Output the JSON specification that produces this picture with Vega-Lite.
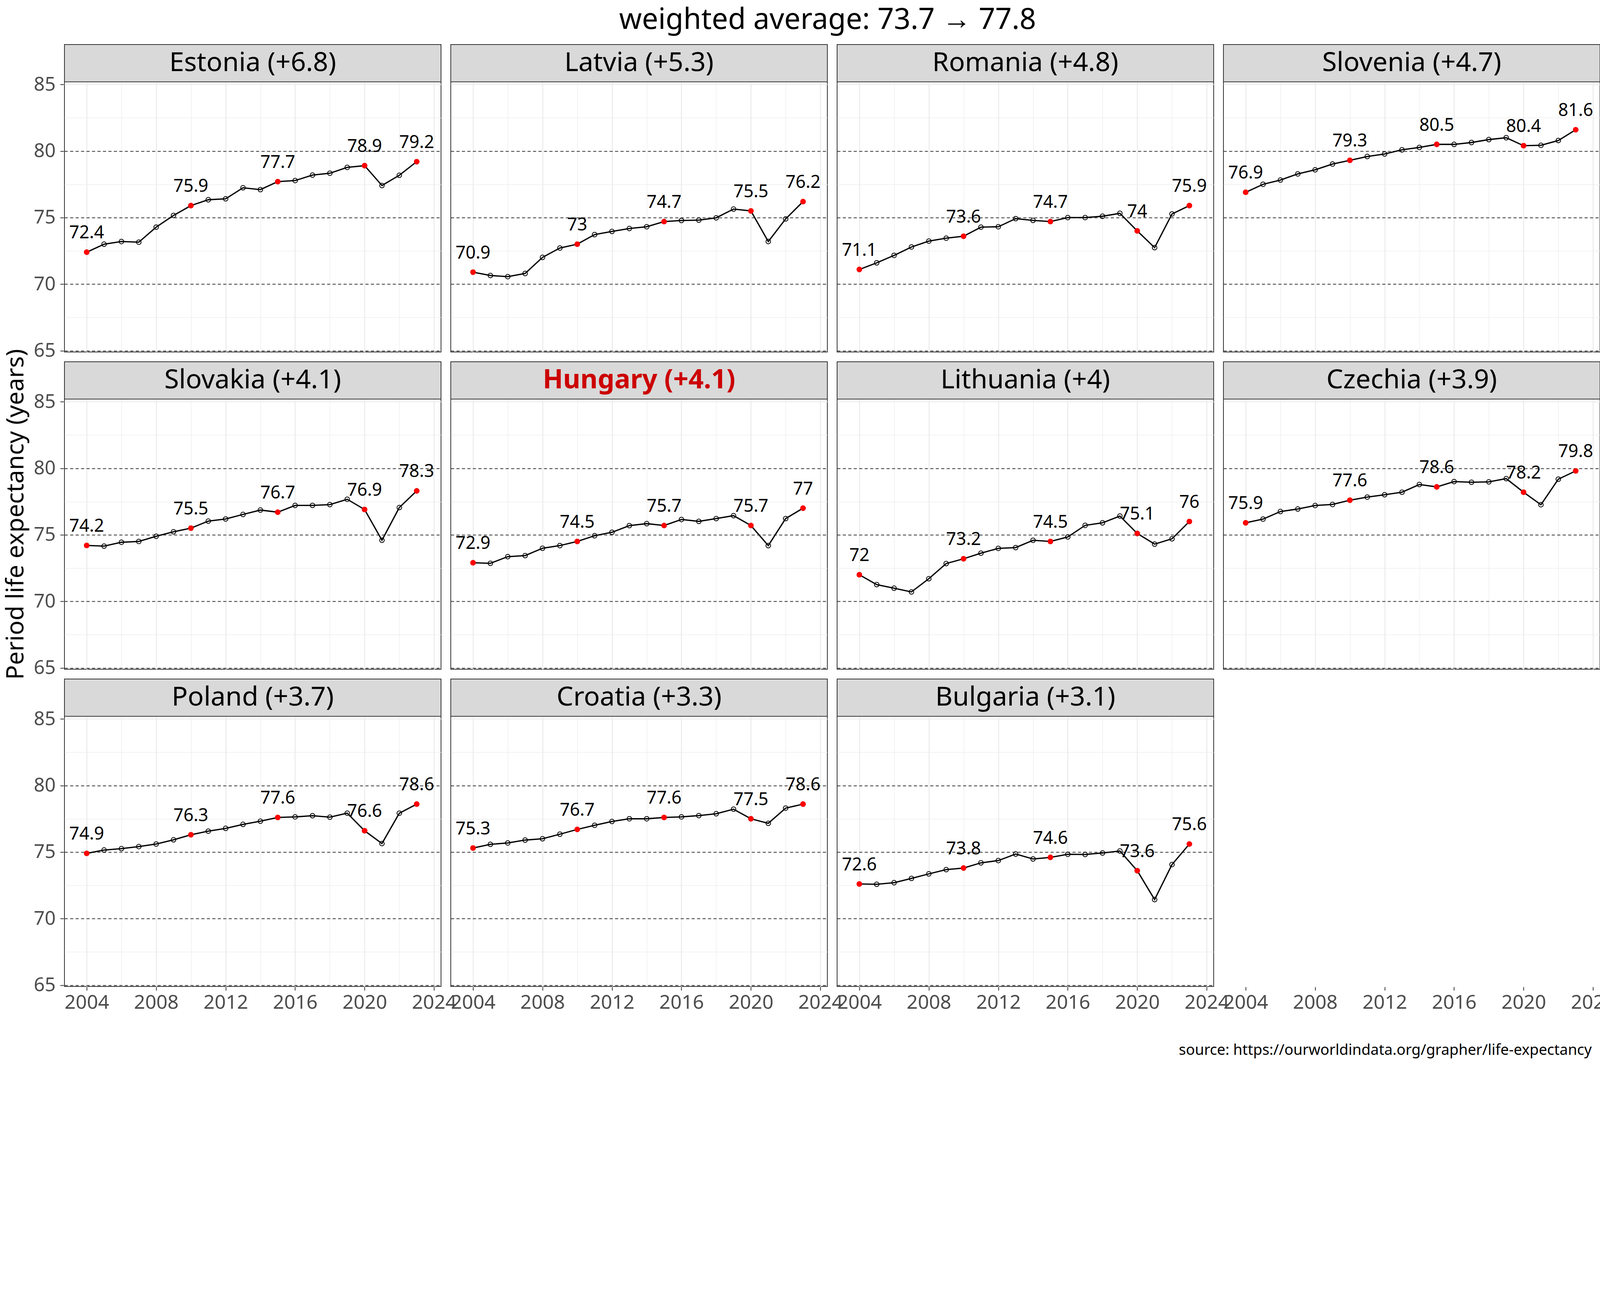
{
  "$schema": "https://vega.github.io/schema/vega-lite/v6.json",
  "padding": {"left": 0, "top": 15, "right": 0, "bottom": 0},
  "datasets": {
    "strips": [
      {"country": "Estonia", "label": "Estonia (+6.8)"},
      {"country": "Latvia", "label": "Latvia (+5.3)"},
      {"country": "Romania", "label": "Romania (+4.8)"},
      {"country": "Slovenia", "label": "Slovenia (+4.7)"},
      {"country": "Slovakia", "label": "Slovakia (+4.1)"},
      {"country": "Hungary", "label": "Hungary (+4.1)"},
      {"country": "Lithuania", "label": "Lithuania (+4)"},
      {"country": "Czechia", "label": "Czechia (+3.9)"},
      {"country": "Poland", "label": "Poland (+3.7)"},
      {"country": "Croatia", "label": "Croatia (+3.3)"},
      {"country": "Bulgaria", "label": "Bulgaria (+3.1)"}
    ],
    "lifeexp": [
      {"country":"Estonia","year":2004,"value":72.4},{"country":"Estonia","year":2005,"value":73.0},{"country":"Estonia","year":2006,"value":73.2},{"country":"Estonia","year":2007,"value":73.15},{"country":"Estonia","year":2008,"value":74.28},{"country":"Estonia","year":2009,"value":75.16},{"country":"Estonia","year":2010,"value":75.9},{"country":"Estonia","year":2011,"value":76.34},{"country":"Estonia","year":2012,"value":76.41},{"country":"Estonia","year":2013,"value":77.24},{"country":"Estonia","year":2014,"value":77.1},{"country":"Estonia","year":2015,"value":77.7},{"country":"Estonia","year":2016,"value":77.78},{"country":"Estonia","year":2017,"value":78.19},{"country":"Estonia","year":2018,"value":78.33},{"country":"Estonia","year":2019,"value":78.77},{"country":"Estonia","year":2020,"value":78.9},{"country":"Estonia","year":2021,"value":77.41},{"country":"Estonia","year":2022,"value":78.18},{"country":"Estonia","year":2023,"value":79.2},
      {"country":"Latvia","year":2004,"value":70.9},{"country":"Latvia","year":2005,"value":70.65},{"country":"Latvia","year":2006,"value":70.56},{"country":"Latvia","year":2007,"value":70.8},{"country":"Latvia","year":2008,"value":72.01},{"country":"Latvia","year":2009,"value":72.71},{"country":"Latvia","year":2010,"value":73.0},{"country":"Latvia","year":2011,"value":73.72},{"country":"Latvia","year":2012,"value":73.96},{"country":"Latvia","year":2013,"value":74.18},{"country":"Latvia","year":2014,"value":74.31},{"country":"Latvia","year":2015,"value":74.7},{"country":"Latvia","year":2016,"value":74.78},{"country":"Latvia","year":2017,"value":74.81},{"country":"Latvia","year":2018,"value":74.98},{"country":"Latvia","year":2019,"value":75.64},{"country":"Latvia","year":2020,"value":75.5},{"country":"Latvia","year":2021,"value":73.2},{"country":"Latvia","year":2022,"value":74.9},{"country":"Latvia","year":2023,"value":76.2},
      {"country":"Romania","year":2004,"value":71.1},{"country":"Romania","year":2005,"value":71.6},{"country":"Romania","year":2006,"value":72.16},{"country":"Romania","year":2007,"value":72.79},{"country":"Romania","year":2008,"value":73.23},{"country":"Romania","year":2009,"value":73.45},{"country":"Romania","year":2010,"value":73.6},{"country":"Romania","year":2011,"value":74.28},{"country":"Romania","year":2012,"value":74.31},{"country":"Romania","year":2013,"value":74.92},{"country":"Romania","year":2014,"value":74.79},{"country":"Romania","year":2015,"value":74.7},{"country":"Romania","year":2016,"value":75.0},{"country":"Romania","year":2017,"value":75.0},{"country":"Romania","year":2018,"value":75.1},{"country":"Romania","year":2019,"value":75.32},{"country":"Romania","year":2020,"value":74.0},{"country":"Romania","year":2021,"value":72.74},{"country":"Romania","year":2022,"value":75.27},{"country":"Romania","year":2023,"value":75.9},
      {"country":"Slovenia","year":2004,"value":76.9},{"country":"Slovenia","year":2005,"value":77.5},{"country":"Slovenia","year":2006,"value":77.82},{"country":"Slovenia","year":2007,"value":78.28},{"country":"Slovenia","year":2008,"value":78.59},{"country":"Slovenia","year":2009,"value":79.02},{"country":"Slovenia","year":2010,"value":79.3},{"country":"Slovenia","year":2011,"value":79.59},{"country":"Slovenia","year":2012,"value":79.78},{"country":"Slovenia","year":2013,"value":80.09},{"country":"Slovenia","year":2014,"value":80.27},{"country":"Slovenia","year":2015,"value":80.5},{"country":"Slovenia","year":2016,"value":80.5},{"country":"Slovenia","year":2017,"value":80.64},{"country":"Slovenia","year":2018,"value":80.86},{"country":"Slovenia","year":2019,"value":81.0},{"country":"Slovenia","year":2020,"value":80.4},{"country":"Slovenia","year":2021,"value":80.43},{"country":"Slovenia","year":2022,"value":80.79},{"country":"Slovenia","year":2023,"value":81.6},
      {"country":"Slovakia","year":2004,"value":74.2},{"country":"Slovakia","year":2005,"value":74.15},{"country":"Slovakia","year":2006,"value":74.44},{"country":"Slovakia","year":2007,"value":74.5},{"country":"Slovakia","year":2008,"value":74.89},{"country":"Slovakia","year":2009,"value":75.23},{"country":"Slovakia","year":2010,"value":75.5},{"country":"Slovakia","year":2011,"value":76.03},{"country":"Slovakia","year":2012,"value":76.19},{"country":"Slovakia","year":2013,"value":76.53},{"country":"Slovakia","year":2014,"value":76.86},{"country":"Slovakia","year":2015,"value":76.7},{"country":"Slovakia","year":2016,"value":77.21},{"country":"Slovakia","year":2017,"value":77.21},{"country":"Slovakia","year":2018,"value":77.27},{"country":"Slovakia","year":2019,"value":77.67},{"country":"Slovakia","year":2020,"value":76.9},{"country":"Slovakia","year":2021,"value":74.59},{"country":"Slovakia","year":2022,"value":77.05},{"country":"Slovakia","year":2023,"value":78.3},
      {"country":"Hungary","year":2004,"value":72.9},{"country":"Hungary","year":2005,"value":72.86},{"country":"Hungary","year":2006,"value":73.36},{"country":"Hungary","year":2007,"value":73.44},{"country":"Hungary","year":2008,"value":73.99},{"country":"Hungary","year":2009,"value":74.19},{"country":"Hungary","year":2010,"value":74.5},{"country":"Hungary","year":2011,"value":74.93},{"country":"Hungary","year":2012,"value":75.19},{"country":"Hungary","year":2013,"value":75.69},{"country":"Hungary","year":2014,"value":75.84},{"country":"Hungary","year":2015,"value":75.7},{"country":"Hungary","year":2016,"value":76.15},{"country":"Hungary","year":2017,"value":76.01},{"country":"Hungary","year":2018,"value":76.22},{"country":"Hungary","year":2019,"value":76.44},{"country":"Hungary","year":2020,"value":75.7},{"country":"Hungary","year":2021,"value":74.19},{"country":"Hungary","year":2022,"value":76.22},{"country":"Hungary","year":2023,"value":77.0},
      {"country":"Lithuania","year":2004,"value":72.0},{"country":"Lithuania","year":2005,"value":71.26},{"country":"Lithuania","year":2006,"value":70.99},{"country":"Lithuania","year":2007,"value":70.71},{"country":"Lithuania","year":2008,"value":71.7},{"country":"Lithuania","year":2009,"value":72.84},{"country":"Lithuania","year":2010,"value":73.2},{"country":"Lithuania","year":2011,"value":73.62},{"country":"Lithuania","year":2012,"value":73.98},{"country":"Lithuania","year":2013,"value":74.04},{"country":"Lithuania","year":2014,"value":74.59},{"country":"Lithuania","year":2015,"value":74.5},{"country":"Lithuania","year":2016,"value":74.84},{"country":"Lithuania","year":2017,"value":75.71},{"country":"Lithuania","year":2018,"value":75.9},{"country":"Lithuania","year":2019,"value":76.41},{"country":"Lithuania","year":2020,"value":75.1},{"country":"Lithuania","year":2021,"value":74.3},{"country":"Lithuania","year":2022,"value":74.7},{"country":"Lithuania","year":2023,"value":76.0},
      {"country":"Czechia","year":2004,"value":75.9},{"country":"Czechia","year":2005,"value":76.18},{"country":"Czechia","year":2006,"value":76.75},{"country":"Czechia","year":2007,"value":76.94},{"country":"Czechia","year":2008,"value":77.2},{"country":"Czechia","year":2009,"value":77.28},{"country":"Czechia","year":2010,"value":77.6},{"country":"Czechia","year":2011,"value":77.83},{"country":"Czechia","year":2012,"value":78.01},{"country":"Czechia","year":2013,"value":78.2},{"country":"Czechia","year":2014,"value":78.78},{"country":"Czechia","year":2015,"value":78.6},{"country":"Czechia","year":2016,"value":79.0},{"country":"Czechia","year":2017,"value":78.95},{"country":"Czechia","year":2018,"value":78.98},{"country":"Czechia","year":2019,"value":79.22},{"country":"Czechia","year":2020,"value":78.2},{"country":"Czechia","year":2021,"value":77.26},{"country":"Czechia","year":2022,"value":79.18},{"country":"Czechia","year":2023,"value":79.8},
      {"country":"Poland","year":2004,"value":74.9},{"country":"Poland","year":2005,"value":75.15},{"country":"Poland","year":2006,"value":75.26},{"country":"Poland","year":2007,"value":75.41},{"country":"Poland","year":2008,"value":75.6},{"country":"Poland","year":2009,"value":75.92},{"country":"Poland","year":2010,"value":76.3},{"country":"Poland","year":2011,"value":76.57},{"country":"Poland","year":2012,"value":76.78},{"country":"Poland","year":2013,"value":77.08},{"country":"Poland","year":2014,"value":77.32},{"country":"Poland","year":2015,"value":77.6},{"country":"Poland","year":2016,"value":77.64},{"country":"Poland","year":2017,"value":77.73},{"country":"Poland","year":2018,"value":77.62},{"country":"Poland","year":2019,"value":77.92},{"country":"Poland","year":2020,"value":76.6},{"country":"Poland","year":2021,"value":75.64},{"country":"Poland","year":2022,"value":77.92},{"country":"Poland","year":2023,"value":78.6},
      {"country":"Croatia","year":2004,"value":75.3},{"country":"Croatia","year":2005,"value":75.58},{"country":"Croatia","year":2006,"value":75.68},{"country":"Croatia","year":2007,"value":75.9},{"country":"Croatia","year":2008,"value":76.0},{"country":"Croatia","year":2009,"value":76.34},{"country":"Croatia","year":2010,"value":76.7},{"country":"Croatia","year":2011,"value":77.01},{"country":"Croatia","year":2012,"value":77.3},{"country":"Croatia","year":2013,"value":77.5},{"country":"Croatia","year":2014,"value":77.5},{"country":"Croatia","year":2015,"value":77.6},{"country":"Croatia","year":2016,"value":77.64},{"country":"Croatia","year":2017,"value":77.74},{"country":"Croatia","year":2018,"value":77.88},{"country":"Croatia","year":2019,"value":78.22},{"country":"Croatia","year":2020,"value":77.5},{"country":"Croatia","year":2021,"value":77.16},{"country":"Croatia","year":2022,"value":78.3},{"country":"Croatia","year":2023,"value":78.6},
      {"country":"Bulgaria","year":2004,"value":72.6},{"country":"Bulgaria","year":2005,"value":72.58},{"country":"Bulgaria","year":2006,"value":72.7},{"country":"Bulgaria","year":2007,"value":73.02},{"country":"Bulgaria","year":2008,"value":73.36},{"country":"Bulgaria","year":2009,"value":73.68},{"country":"Bulgaria","year":2010,"value":73.8},{"country":"Bulgaria","year":2011,"value":74.19},{"country":"Bulgaria","year":2012,"value":74.36},{"country":"Bulgaria","year":2013,"value":74.85},{"country":"Bulgaria","year":2014,"value":74.48},{"country":"Bulgaria","year":2015,"value":74.6},{"country":"Bulgaria","year":2016,"value":74.83},{"country":"Bulgaria","year":2017,"value":74.82},{"country":"Bulgaria","year":2018,"value":74.93},{"country":"Bulgaria","year":2019,"value":75.08},{"country":"Bulgaria","year":2020,"value":73.6},{"country":"Bulgaria","year":2021,"value":71.43},{"country":"Bulgaria","year":2022,"value":74.06},{"country":"Bulgaria","year":2023,"value":75.6}
    ]
  },
  "title": {
    "text": "weighted average: 73.7 → 77.8",
    "fontSize": 74,
    "fontWeight": "normal",
    "font": "Noto Sans",
    "color": "black",
    "anchor": "middle",
    "dx": 51,
    "offset": 21
  },
  "spacing": 78,
  "vconcat": [
    {
      "spacing": 3,
      "hconcat": [
        {
          "data": {"values": [{}]},
          "width": 82,
          "height": 2405,
          "view": {"stroke": null},
          "mark": {"type": "text", "angle": 270, "fontSize": 62, "font": "Noto Sans", "color": "black", "baseline": "middle", "align": "center"},
          "encoding": {"text": {"value": "Period life expectancy (years)"}}
        },
        {
          "data": {"name": "lifeexp"},
          "transform": [
            {"lookup": "country", "from": {"data": {"name": "strips"}, "key": "country", "fields": ["label"]}}
          ],
          "columns": 4,
          "spacing": {"row": 21, "column": 21},
          "facet": {
            "field": "country",
            "type": "nominal",
            "title": null,
            "sort": ["Estonia", "Latvia", "Romania", "Slovenia", "Slovakia", "Hungary", "Lithuania", "Czechia", "Poland", "Croatia", "Bulgaria"],
            "header": {
              "labelExpr": "''",
              "labelPadding": 0,
              "labelFontSize": 1
            }
          },
          "spec": {
            "width": 964,
            "height": 787,
            "layer": [
              {
                "mark": {"type": "line", "color": "black", "strokeWidth": 3.3},
                "encoding": {
                  "x": {
                    "field": "year", "type": "quantitative", "title": null,
                    "scale": {"domain": [2002.72, 2024.4], "nice": false, "zero": false},
                    "axis": {
                      "title": null,
                      "values": [2004, 2006, 2008, 2010, 2012, 2014, 2016, 2018, 2020, 2022, 2024],
                      "labelExpr": "(datum.value - 2004) % 4 === 0 ? format(datum.value, 'd') : ''",
                      "tickOpacity": {"condition": {"test": "(datum.value - 2004) % 4 === 0", "value": 1}, "value": 0},
                      "gridColor": "#ebebeb",
                      "gridWidth": {"condition": {"test": "(datum.value - 2004) % 4 === 0", "value": 2.5}, "value": 1.25},
                      "labelFontSize": 50,
                      "labelPadding": 6,
                      "labelOverlap": false,
                      "labelFlush": false,
                      "labelBound": false
                    }
                  },
                  "y": {
                    "field": "value", "type": "quantitative", "title": null,
                    "scale": {"domain": [64.9, 88.0], "nice": false, "zero": false},
                    "axis": {
                      "title": null,
                      "values": [65, 67.5, 70, 72.5, 75, 77.5, 80, 82.5, 85],
                      "labelExpr": "datum.value % 5 === 0 ? format(datum.value, 'd') : ''",
                      "tickOpacity": {"condition": {"test": "datum.value % 5 === 0", "value": 1}, "value": 0},
                      "gridColor": {"condition": {"test": "datum.value <= 80 && datum.value % 5 === 0", "value": "#333333"}, "value": "#ebebeb"},
                      "gridDash": {"condition": {"test": "datum.value <= 80 && datum.value % 5 === 0", "value": [8, 6]}, "value": []},
                      "gridWidth": {"condition": {"test": "datum.value % 5 === 0", "value": 2}, "value": 1.25},
                      "labelFontSize": 49,
                      "labelPadding": 12,
                      "labelOverlap": false,
                      "labelFlush": false,
                      "labelBound": false
                    }
                  }
                }
              },
              {
                "mark": {"type": "point", "shape": "circle", "filled": false, "stroke": "black", "strokeWidth": 2, "size": 140, "opacity": 1},
                "encoding": {
                  "x": {"field": "year", "type": "quantitative", "title": null},
                  "y": {"field": "value", "type": "quantitative", "title": null}
                }
              },
              {
                "transform": [{"filter": {"field": "year", "oneOf": [2004, 2010, 2015, 2020, 2023]}}],
                "mark": {"type": "circle", "color": "#ff0000", "size": 205, "opacity": 1},
                "encoding": {
                  "x": {"field": "year", "type": "quantitative", "title": null},
                  "y": {"field": "value", "type": "quantitative", "title": null}
                }
              },
              {
                "transform": [{"filter": {"field": "year", "oneOf": [2004, 2010, 2015, 2020, 2023]}}],
                "mark": {"type": "text", "fontSize": 45, "font": "Noto Sans", "color": "black", "baseline": "alphabetic", "align": "center", "dy": -35},
                "encoding": {
                  "x": {"field": "year", "type": "quantitative", "title": null},
                  "y": {"field": "value", "type": "quantitative", "title": null},
                  "text": {"field": "value", "type": "quantitative", "format": ".1~f"}
                }
              },
              {
                "transform": [{"filter": "datum.year === 2004"}],
                "mark": {"type": "rect", "fill": "#d9d9d9", "stroke": "#333333", "strokeWidth": 2},
                "encoding": {
                  "x": {"datum": 2002.72, "type": "quantitative", "title": null},
                  "x2": {"datum": 2024.4},
                  "y": {"datum": 85.2, "type": "quantitative", "title": null},
                  "y2": {"datum": 88.0}
                }
              },
              {
                "transform": [{"filter": "datum.year === 2004 && datum.country !== 'Hungary'"}],
                "mark": {"type": "text", "fontSize": 68, "font": "Noto Sans", "color": "black", "baseline": "middle", "align": "center"},
                "encoding": {
                  "x": {"datum": 2013.56, "type": "quantitative", "title": null},
                  "y": {"datum": 86.6, "type": "quantitative", "title": null},
                  "text": {"field": "label", "type": "nominal"}
                }
              },
              {
                "transform": [{"filter": "datum.year === 2004 && datum.country === 'Hungary'"}],
                "mark": {"type": "text", "fontSize": 68, "font": "Noto Sans", "fontWeight": "bold", "color": "#cc0000", "baseline": "middle", "align": "center"},
                "encoding": {
                  "x": {"datum": 2013.56, "type": "quantitative", "title": null},
                  "y": {"datum": 86.6, "type": "quantitative", "title": null},
                  "text": {"field": "label", "type": "nominal"}
                }
              }
            ]
          }
        }
      ]
    },
    {
      "data": {"values": [{}]},
      "width": 4075,
      "height": 40,
      "view": {"stroke": null},
      "mark": {"type": "text", "fontSize": 38, "font": "Noto Sans", "color": "black", "baseline": "middle", "align": "right"},
      "encoding": {
        "x": {"datum": 1, "type": "quantitative", "scale": {"domain": [0, 1]}, "axis": null},
        "text": {"value": "source: https://ourworldindata.org/grapher/life-expectancy"}
      }
    }
  ],
  "config": {
    "font": "Noto Sans",
    "background": "white",
    "view": {"stroke": "#333333", "strokeWidth": 2},
    "axis": {
      "domain": false,
      "labelFont": "Noto Sans",
      "labelFontSize": 48,
      "labelColor": "#4d4d4d",
      "tickColor": "#333333",
      "tickSize": 9,
      "tickWidth": 2
    }
  }
}
